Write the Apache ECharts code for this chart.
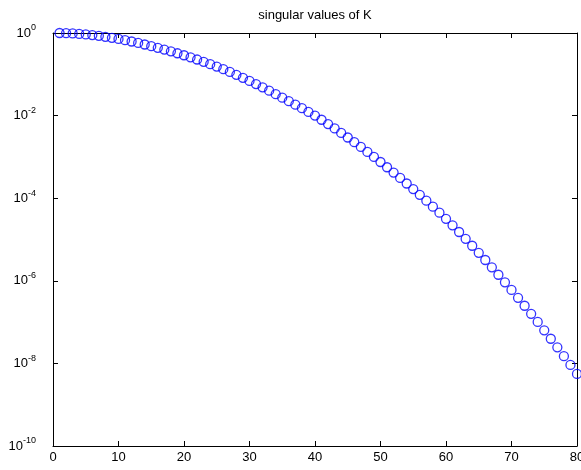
<!DOCTYPE html>
<html>
<head>
<meta charset="utf-8">
<script src="https://cdn.jsdelivr.net/npm/echarts@6/dist/echarts.min.js"></script>
<style>
html,body{margin:0;padding:0;background:#fff;}
#c{width:581px;height:470px;}
</style>
</head>
<body>
<div id="c"></div>
<script>
// index k = 1..80
var indices = [];
for (var i = 1; i <= 80; i++) indices.push(i);

// singular values
var singularValues = [
  1.00e0, 9.90e-1, 9.74e-1, 9.51e-1, 9.23e-1, 8.90e-1, 8.52e-1, 8.10e-1, 7.66e-1, 7.18e-1,
  6.71e-1, 6.23e-1, 5.75e-1, 5.27e-1, 4.81e-1, 4.38e-1, 3.97e-1, 3.59e-1, 3.23e-1, 2.89e-1,
  2.57e-1, 2.28e-1, 2.01e-1, 1.76e-1, 1.54e-1, 1.33e-1, 1.14e-1, 9.70e-2, 8.22e-2, 6.92e-2,
  5.80e-2, 4.84e-2, 4.01e-2, 3.31e-2, 2.71e-2, 2.24e-2, 1.84e-2, 1.51e-2, 1.23e-2, 1.00e-2,
  7.94e-3, 6.25e-3, 4.90e-3, 3.81e-3, 2.95e-3, 2.27e-3, 1.74e-3, 1.32e-3, 1.00e-3, 7.52e-4,
  5.62e-4, 4.18e-4, 3.09e-4, 2.27e-4, 1.66e-4, 1.21e-4, 8.71e-5, 6.25e-5, 4.47e-5, 3.17e-5,
  2.20e-5, 1.52e-5, 1.04e-5, 7.06e-6, 4.76e-6, 3.19e-6, 2.12e-6, 1.40e-6, 9.21e-7, 6.00e-7,
  3.88e-7, 2.49e-7, 1.59e-7, 1.01e-7, 6.33e-8, 3.95e-8, 2.45e-8, 1.50e-8, 9.18e-9, 5.56e-9
];

var titleText = 'singular values of K';
var xTicks = [0, 10, 20, 30, 40, 50, 60, 70, 80];
var yTickExponents = [0, -2, -4, -6, -8, -10];

var data = indices.map(function (k, i) { return [k, singularValues[i]]; });

var font = 'Liberation Sans, Arial, Helvetica, sans-serif';
var axisColor = '#000';

var chart = echarts.init(document.getElementById('c'), null, {renderer: 'canvas'});

function common() {
  return {
    axisLine: {show: true, onZero: false, lineStyle: {color: axisColor, width: 1}},
    axisTick: {show: true, inside: true, length: 5, lineStyle: {color: axisColor}},
    splitLine: {show: false}
  };
}

chart.setOption({
  animation: false,
  backgroundColor: '#fff',
  grid: {left: 53, right: 4, top: 33, bottom: 24, containLabel: false, outerBoundsMode: 'none'},
  graphic: [{
    type: 'text',
    x: 315, y: 15,
    style: {
      text: titleText,
      font: '13px ' + font,
      fill: '#000',
      align: 'center',
      verticalAlign: 'middle'
    }
  }],
  xAxis: [
    Object.assign({
      type: 'value', position: 'bottom', min: xTicks[0], max: xTicks[xTicks.length - 1], interval: 10,
      axisLabel: {show: true, color: '#000', fontSize: 13, fontFamily: font, margin: 5, hideOverlap: false}
    }, common()),
    Object.assign({
      type: 'value', position: 'top', min: xTicks[0], max: xTicks[xTicks.length - 1], interval: 10,
      axisLabel: {show: false}
    }, common())
  ],
  yAxis: [
    Object.assign({
      type: 'log', logBase: 10, position: 'left',
      min: Math.pow(10, yTickExponents[yTickExponents.length - 1]),
      max: Math.pow(10, yTickExponents[0]),
      interval: 2,
      axisLabel: {
        show: true, margin: 17,
        formatter: function (v) {
          var e = Math.round(Math.log(v) / Math.LN10);
          return '{b|10}{s|' + e + '}';
        },
        rich: {
          b: {fontSize: 13, fontFamily: font, color: '#000'},
          s: {fontSize: 9, fontFamily: font, color: '#000', padding: [0, 0, 10, 0]}
        }
      }
    }, common()),
    Object.assign({
      type: 'log', logBase: 10, position: 'right',
      min: Math.pow(10, yTickExponents[yTickExponents.length - 1]),
      max: Math.pow(10, yTickExponents[0]),
      interval: 2,
      axisLabel: {show: false}
    }, common())
  ],
  series: [{
    type: 'scatter',
    xAxisIndex: 0, yAxisIndex: 0,
    data: data,
    symbol: 'circle',
    symbolSize: 9,
    clip: false,
    itemStyle: {color: 'rgba(0,0,0,0)', borderColor: '#0000ff', borderWidth: 1.3},
    emphasis: {disabled: true}
  }]
});
</script>
</body>
</html>
